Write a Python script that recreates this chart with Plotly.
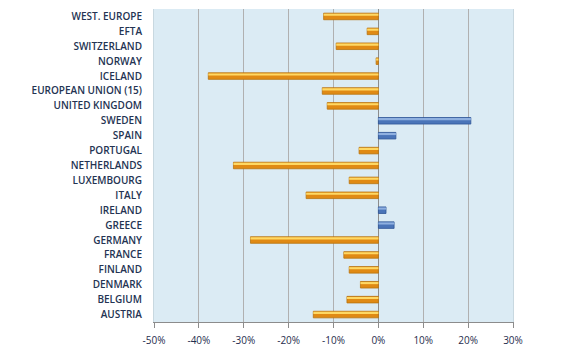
import plotly.graph_objects as go

categories = ["AUSTRIA", "BELGIUM", "DENMARK", "FINLAND", "FRANCE", "GERMANY",
              "GREECE", "IRELAND", "ITALY", "LUXEMBOURG", "NETHERLANDS", "PORTUGAL",
              "SPAIN", "SWEDEN", "UNITED KINGDOM", "EUROPEAN UNION (15)", "ICELAND",
              "NORWAY", "SWITZERLAND", "EFTA", "WEST. EUROPE"]
values = [-14.5, -7.0, -4.0, -6.5, -7.7, -28.5,
          3.5, 1.7, -16.1, -6.5, -32.3, -4.3,
          3.9, 20.6, -11.4, -12.5, -37.9,
          -0.5, -9.4, -2.5, -12.2]

tickvals = [-50, -40, -30, -20, -10, 0, 10, 20, 30]
ticktext = ["-50%", "-40%", "-30%", "-20%", "-10%", "0%", "10%", "20%", "30%"]

base_colors = ["#4A74B8" if v > 0 else "#E08A14" for v in values]
line_colors = ["#2F5597" if v > 0 else "#B8740E" for v in values]
hi_colors = ["#8FB0E0" if v > 0 else "#FFD863" for v in values]

fig = go.Figure()
fig.add_trace(go.Bar(
    y=categories, x=values, orientation="h", width=0.44,
    marker=dict(color=base_colors, line=dict(color=line_colors, width=0.8)),
    showlegend=False, hoverinfo="x+y"))
fig.add_trace(go.Bar(
    y=categories, x=values, orientation="h", width=0.14, offset=0.04,
    marker=dict(color=hi_colors, line=dict(width=0)),
    showlegend=False, hoverinfo="skip"))

fig.update_layout(
    width=580, height=350,
    margin=dict(l=154, r=67, t=9, b=28),
    barmode="overlay",
    paper_bgcolor="white",
    plot_bgcolor="#DBEBF4",
    font=dict(family="Open Sans, DejaVu Sans, sans-serif", size=10, color="#1F2D4E"),
)
fig.update_xaxes(
    range=[-50, 30], tickvals=tickvals, ticktext=ticktext,
    showgrid=True, gridcolor="#B0B0B0", gridwidth=1,
    zeroline=True, zerolinecolor="#8C8C8C", zerolinewidth=1,
    showline=True, linecolor="#8C8C8C", mirror=False,
    ticks="outside", ticklen=5, tickcolor="#8C8C8C",
    ticklabelstandoff=4, automargin=False,
    tickfont=dict(size=10, color="#1F2D4E"),
)
fig.update_yaxes(
    type="category", categoryorder="array", categoryarray=categories,
    showgrid=False, showline=True, linecolor="#C8D8E0", mirror=True,
    ticks="", ticklabelstandoff=9, automargin=False,
    tickfont=dict(size=10, color="#243352", weight=600),
)
fig.write_html("out.html")
